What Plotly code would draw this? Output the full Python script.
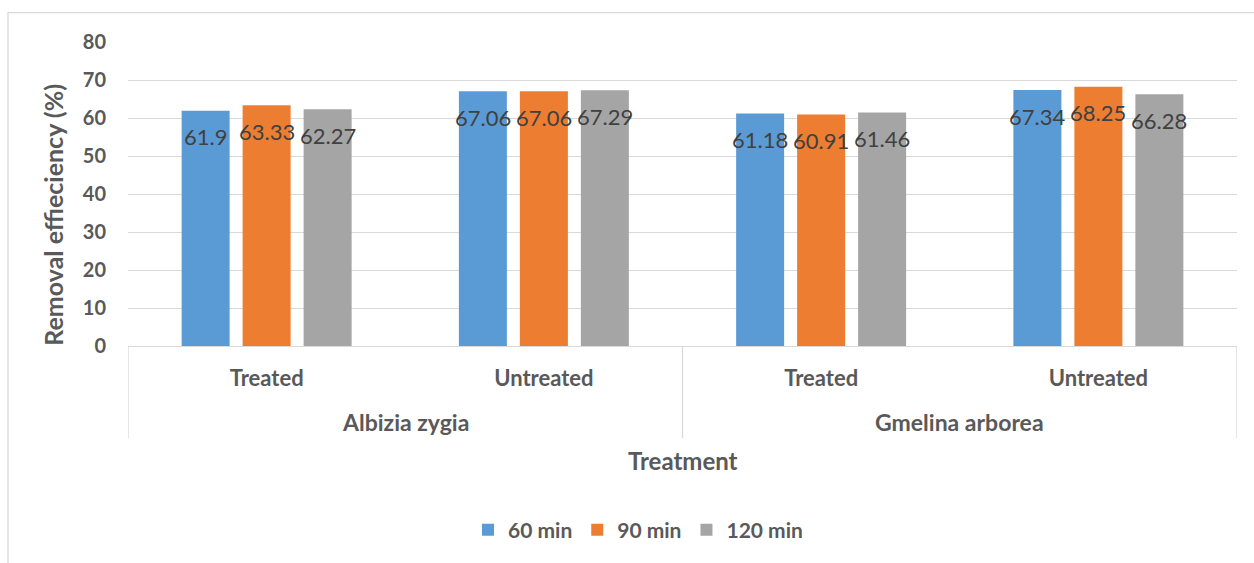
import plotly.graph_objects as go

# Grouped removal-efficiency results by adsorbent species and treatment
species = ["Albizia zygia", "Gmelina arborea"]
treatments = ["Treated", "Untreated"]
series_names = ["60 min", "90 min", "120 min"]
values_60 = [61.9, 67.06, 61.18, 67.34]
values_90 = [63.33, 67.06, 60.91, 68.25]
values_120 = [62.27, 67.29, 61.46, 66.28]
y_ticks = [0, 10, 20, 30, 40, 50, 60, 70, 80]

colors = ["#5B9BD5", "#ED7D31", "#A5A5A5"]
FONT = "Lato"
AXIS_TXT = "#595959"
LABEL_TXT = "#404040"
GRID = "#D9D9D9"

W, H = 1254, 563
L, R, T, B = 128, 17, 42, 216.5
PW, PH = W - L - R, H - T - B
BARGAP = 0.34


def px_x(p):
    """Pixel column -> paper x."""
    return (p - L) / PW


def px_y(p):
    """Pixel row -> paper y."""
    return (H - B - p) / PH


# one numeric slot per (species, treatment) pair
cat_labels = [t for s in species for t in treatments]
x_pos = list(range(len(cat_labels)))
series = [values_60, values_90, values_120]

fig = go.Figure()
for name, vals, col in zip(series_names, series, colors):
    fig.add_trace(go.Bar(
        x=x_pos, y=vals, name=name, marker=dict(color=col, line=dict(width=0)),
        hoverinfo="skip",
    ))

# value labels placed just inside the top of each bar
n = len(series)
slot = (1 - BARGAP) / n
annotations = []
for j, vals in enumerate(series):
    for i, v in enumerate(vals):
        annotations.append(dict(
            x=x_pos[i] + (j - (n - 1) / 2) * slot, y=v, xref="x", yref="y",
            text=f"{v:g}", showarrow=False, yshift=-26,
            font=dict(family=FONT, size=22, color=LABEL_TXT),
            xanchor="center", yanchor="middle",
        ))

# second-level category labels (species) under the treatment labels
per = len(treatments)
for k, s in enumerate(species):
    annotations.append(dict(
        x=k * per + (per - 1) / 2, y=0, xref="x", yref="y", yshift=-76,
        text=f"<b>{s}</b>", showarrow=False,
        font=dict(family=FONT, size=23, color=AXIS_TXT),
        xanchor="center", yanchor="middle",
    ))

# x-axis title below the category labels
annotations.append(dict(
    x=(x_pos[0] + x_pos[-1]) / 2, y=0, xref="x", yref="y", yshift=-114,
    text="<b>Treatment</b>", showarrow=False,
    font=dict(family=FONT, size=24, color=AXIS_TXT),
    xanchor="center", yanchor="middle",
))

# y-axis title
annotations.append(dict(
    x=px_x(53), y=px_y(215), xref="paper", yref="paper",
    text="<b>Removal effieciency (%)</b>", showarrow=False, textangle=-90,
    font=dict(family=FONT, size=25, color=AXIS_TXT),
    xanchor="center", yanchor="middle",
))

shapes = []
# group dividers below the plot area
for k in range(len(species) + 1):
    xb = k * per - 0.5
    shapes.append(dict(type="line", xref="x", yref="paper", x0=xb, x1=xb,
                       y0=0, y1=px_y(439),
                       line=dict(color=GRID, width=1.3)))
# chart area border
shapes.append(dict(type="rect", xref="paper", yref="paper",
                   x0=px_x(8), x1=px_x(W + 30),
                   y0=px_y(H + 30), y1=px_y(12.5),
                   line=dict(color=GRID, width=1.3), layer="below"))

fig.update_layout(
    width=W, height=H,
    margin=dict(l=L, r=R, t=T, b=B, autoexpand=False),
    paper_bgcolor="white", plot_bgcolor="white",
    barmode="group", bargap=BARGAP, bargroupgap=0.213,
    font=dict(family=FONT, color=AXIS_TXT),
    showlegend=True,
    legend=dict(
        orientation="h", x=px_x(638), xanchor="center",
        y=px_y(531), yanchor="middle",
        font=dict(family=FONT, size=21, color=AXIS_TXT, weight="bold"),
        itemwidth=30, tracegroupgap=0,
    ),
    annotations=annotations, shapes=shapes,
)
fig.update_xaxes(
    range=[-0.5, len(cat_labels) - 0.5], tickmode="array", tickvals=x_pos,
    ticktext=[f"<b>{c}</b>" for c in cat_labels],
    tickfont=dict(family=FONT, size=22, color=AXIS_TXT),
    ticks="", ticklabelstandoff=12,
    showline=True, linecolor=GRID, linewidth=1.3, showgrid=False, zeroline=False,
)
fig.update_yaxes(
    range=[0, 80], tickmode="array", tickvals=y_ticks,
    ticktext=[f"<b>{t}</b>" for t in y_ticks],
    tickfont=dict(family=FONT, size=20, color=AXIS_TXT), ticks="",
    ticklabelstandoff=21,
    showgrid=True, gridcolor=GRID, gridwidth=1.3, zeroline=False,
)

fig.write_html("out.html")
